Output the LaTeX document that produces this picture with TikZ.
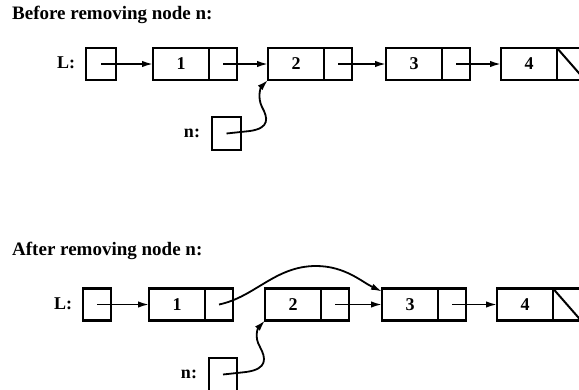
\documentclass[tikz,border=0pt]{standalone}
\usepackage{fontspec}
\setmainfont{Liberation Serif}
\usetikzlibrary{arrows.meta}
\begin{document}
\begin{tikzpicture}[x=1pt,y=-1pt,
  cell/.style={draw, line width=2.2pt, minimum height=32pt, inner sep=0pt, outer sep=0pt,
               font=\fontsize{18}{18}\selectfont\bfseries},
  valcell/.style={cell, minimum width=56pt},
  ptrcell/.style={cell, minimum width=28pt},
  headbox/.style={cell, minimum width=30pt},
  lbl/.style={font=\fontsize{18}{18}\selectfont\bfseries, inner sep=0pt},
  title/.style={font=\fontsize{19}{19}\selectfont\bfseries, inner sep=0pt, anchor=west},
  ptr/.style={line width=1.8pt, -{Latex[length=11pt,width=6.5pt]}},
  nil/.style={line width=2pt}
]
\useasboundingbox (0,0) rectangle (579,389);
\clip (0,0) rectangle (579,389);

% ---------- Before ----------
\node[title] (t1) at (12,15) {Before removing node n:};
\node[lbl] (tLl) at (66,63) {L:};
\node[headbox] (tL) at (101,64) {};
\node[valcell] (t1v) at (181,64) {1};
\node[ptrcell] (t1p) at (223,64) {};
\node[valcell] (t2v) at (296,64) {2};
\node[ptrcell] (t2p) at (338,64) {};
\node[valcell] (t3v) at (414,64) {3};
\node[ptrcell] (t3p) at (456,64) {};
\node[valcell] (t4v) at (529,64) {4};
\node[ptrcell] (t4p) at (571,64) {};
\draw[nil] (t4p.north west) -- (t4p.south east);
\node[lbl] (tnl) at (192,133) {n:};
\node[cell, minimum width=29pt, minimum height=33pt] (tn) at (226.5,133.5) {};

\draw[ptr] (tL.center) -- (t1v.west);
\draw[ptr] (t1p.center) -- (t2v.west);
\draw[ptr] (t2p.center) -- (t3v.west);
\draw[ptr] (t3p.center) -- (t4v.west);
\draw[ptr] (tn.center) -- (250,131) .. controls (270,128) and (268,118) .. (262,107)
   .. controls (257,97) and (261,87) .. (t2v.south west);

% ---------- After ----------
\node[title] (t2) at (12,251) {After removing node n:};
\node[lbl] (bLl) at (63,304) {L:};
\node[headbox, minimum width=28pt] (bL) at (97,304.5) {};
\node[valcell] (b1v) at (177,304.5) {1};
\node[ptrcell] (b1p) at (219,304.5) {};
\node[valcell] (b2v) at (293,304.5) {2};
\node[ptrcell] (b2p) at (335,304.5) {};
\node[valcell] (b3v) at (410,304.5) {3};
\node[ptrcell] (b3p) at (452,304.5) {};
\node[valcell] (b4v) at (525,304.5) {4};
\node[ptrcell] (b4p) at (567,304.5) {};
\draw[nil] (b4p.north west) -- (b4p.south east);
\node[lbl] (bnl) at (189,374) {n:};
\node[cell, minimum width=28pt, minimum height=33pt] (bn) at (223,374.5) {};

\draw[ptr] (bL.center) -- (b1v.west);
\draw[ptr] (b2p.center) -- (b3v.west);
\draw[ptr] (b3p.center) -- (b4v.west);
\draw[ptr] (b1p.center) .. controls (255,297) and (275,266) .. (316,266)
   .. controls (345,266) and (362,282) .. ([yshift=-3pt]b3v.north west);
\draw[ptr] (bn.center) -- (246,372) .. controls (268,369) and (266,358) .. (260,347)
   .. controls (254,337) and (258,328) .. (b2v.south west);
\end{tikzpicture}
\end{document}
